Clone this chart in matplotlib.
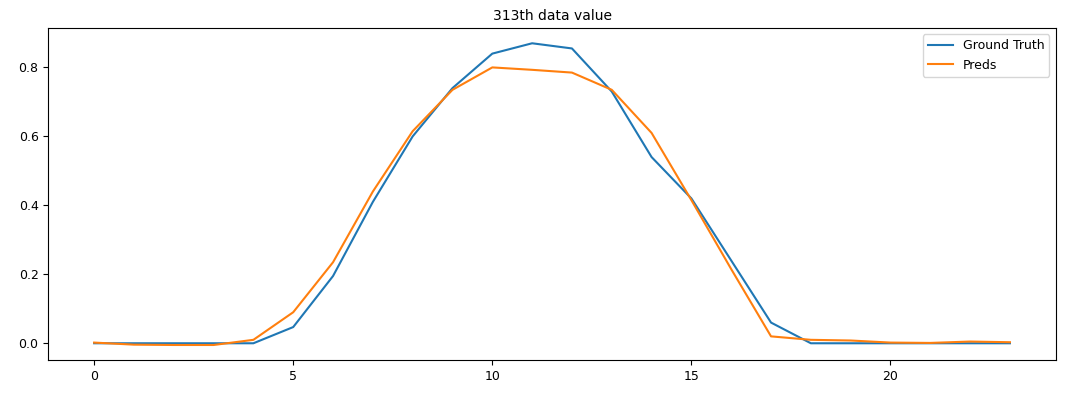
import matplotlib
matplotlib.use("Agg")
from matplotlib import pyplot as plt

hours = list(range(24))
ground_truth = [0.0, 0.0, 0.0, 0.0, 0.0, 0.047, 0.195, 0.41, 0.60, 0.74, 0.84, 0.87,
                0.855, 0.73, 0.54, 0.42, 0.24, 0.06, 0.0, 0.0, 0.0, 0.0, 0.0, 0.0]
preds = [0.002, -0.004, -0.005, -0.005, 0.01, 0.09, 0.235, 0.44, 0.615, 0.735, 0.80, 0.793,
         0.785, 0.735, 0.61, 0.415, 0.215, 0.02, 0.01, 0.008, 0.002, 0.001, 0.005, 0.003]

fig = plt.figure(figsize=(10.74, 3.97), dpi=100)
ax = fig.add_axes([0.045, 0.093, 0.938, 0.836])

ax.plot(hours, ground_truth, label="Ground Truth")
ax.plot(hours, preds, label="Preds")
ax.set_title("313th data value", fontsize=10)
ax.tick_params(labelsize=9)
ax.legend(fontsize=9)

fig.savefig("out.png", dpi=100)
